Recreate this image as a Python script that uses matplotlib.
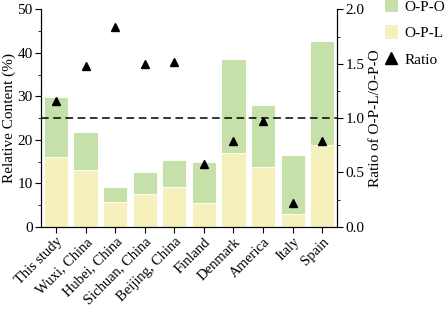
import numpy as np
import matplotlib.pyplot as plt
from matplotlib.patches import Patch
from matplotlib.lines import Line2D

plt.rcParams['font.family'] = ['Liberation Serif', 'DejaVu Serif']
plt.rcParams['font.size'] = 11

sites = ['This study', 'Wuxi, China', 'Hubei, China', 'Sichuan, China', 'Beijing, China',
         'Finland', 'Denmark', 'America', 'Italy', 'Spain']
opl = [16.0, 13.1, 5.7, 7.5, 9.2, 5.4, 16.9, 13.7, 2.9, 18.9]
total = [29.9, 21.9, 9.1, 12.7, 15.4, 15.0, 38.5, 27.9, 16.5, 42.7]
opo = [t - l for t, l in zip(total, opl)]
ratio = [1.16, 1.48, 1.84, 1.50, 1.52, 0.58, 0.79, 0.975, 0.22, 0.79]

green = '#c5e0a8'
yellow = '#f6f0bd'

fig = plt.figure(figsize=(4.47, 3.12), dpi=100)
ax = fig.add_axes([0.092, 0.273, 0.662, 0.697])
x = np.arange(len(sites))
ax.bar(x, opl, width=0.82, color=yellow, edgecolor='white', linewidth=0.6)
ax.bar(x, opo, bottom=opl, width=0.82, color=green, edgecolor='white', linewidth=0.6)
ax.set_xlim(-0.5, 9.5)
ax.set_ylim(0, 50)
ax.set_yticks([0, 10, 20, 30, 40, 50])
ax.set_yticks(np.arange(5, 50, 10), minor=True)
ax.set_ylabel('Relative Content (%)', labelpad=1)
ax.set_xticks(x)
ax.set_xticklabels(sites, rotation=45, ha='right', rotation_mode='anchor', fontsize=10.5)
ax.spines['top'].set_visible(False)
ax.tick_params(direction='out', length=4, pad=2)
ax.tick_params(which='minor', length=2.5)

ax2 = ax.twinx()
ax2.set_ylim(0, 2.0)
ax2.set_yticks([0, 0.5, 1.0, 1.5, 2.0])
ax2.set_yticks([0.25, 0.75, 1.25, 1.75], minor=True)
ax2.set_yticklabels(['0.0', '0.5', '1.0', '1.5', '2.0'])
ax2.plot(x, ratio, '^', color='black', markersize=5.5, linestyle='none')
ax2.axhline(1.0, color='black', linestyle=(0, (5, 3)), linewidth=1.1)
ax2.set_ylabel('Ratio of O-P-L/O-P-O', labelpad=3)
ax2.spines['top'].set_visible(False)
ax2.tick_params(direction='out', length=4, pad=2)
ax2.tick_params(which='minor', length=2.5)

handles = [Patch(facecolor=green, edgecolor='none', label='O-P-O'),
           Patch(facecolor=yellow, edgecolor='none', label='O-P-L'),
           Line2D([], [], marker='^', color='black', linestyle='none', markersize=8, label='Ratio')]
fig.legend(handles=handles, loc='upper left', bbox_to_anchor=(0.862, 1.005), frameon=False,
           handlelength=0.8, handleheight=1.0, handletextpad=0.45, labelspacing=0.75,
           borderpad=0, borderaxespad=0, fontsize=11)

fig.savefig('out.png', dpi=100)
